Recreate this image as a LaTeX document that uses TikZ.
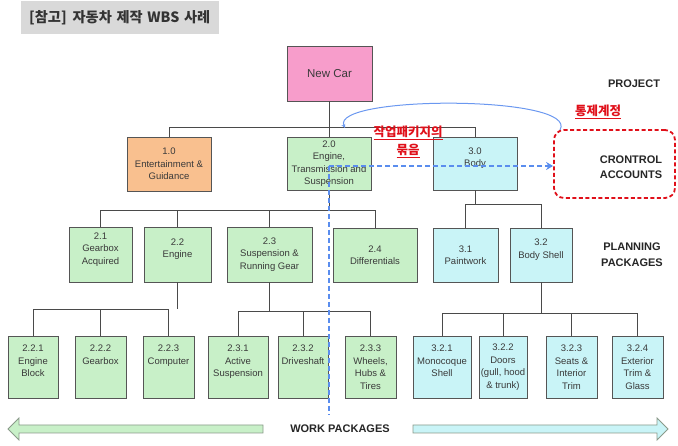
\documentclass[tikz,border=0pt]{standalone}
\usepackage{fontspec}
\setmainfont{Liberation Sans}
\newfontfamily\kr{Noto Sans CJK KR}
\usetikzlibrary{arrows.meta}
\definecolor{pinkf}{HTML}{F79DCB}
\definecolor{orangef}{HTML}{F9C08F}
\definecolor{greenf}{HTML}{C8F0C8}
\definecolor{cyanf}{HTML}{C9F4F7}
\definecolor{boxline}{HTML}{555555}
\definecolor{boxtext}{HTML}{3A3A3A}
\definecolor{connc}{HTML}{4A4A4A}
\definecolor{bluec}{HTML}{5A8DEE}
\definecolor{redc}{HTML}{E0101A}
\definecolor{titlegray}{HTML}{D9D9D9}
\definecolor{arrowline}{HTML}{8A9A8A}
\begin{document}
\begin{tikzpicture}[x=1pt,y=-1pt,
  box/.style={draw=boxline, line width=0.8pt, text=boxtext, align=center, inner sep=0pt,
    font=\fontsize{9.5}{12.5}\selectfont},
  sz/.style 2 args={minimum width=#1pt, minimum height=#2pt},
  conn/.style={draw=connc, line width=0.9pt},
  lblb/.style={font=\fontsize{11}{15.5}\selectfont\bfseries, text=black!85, align=center, inner sep=0pt},
  redt/.style={font=\kr\bfseries\fontsize{12.5}{18}\selectfont, text=redc, align=center, inner sep=0pt},
  bdash/.style={draw=bluec, line width=1.5pt, dash pattern=on 5pt off 3pt},
  bcurve/.style={draw=bluec!90, line width=1pt}]
\useasboundingbox (0,0) rectangle (678,446);

% title
\node[fill=titlegray, anchor=north west, minimum width=198pt, minimum height=33pt,
      text width=182pt, inner xsep=8pt, inner ysep=0pt, align=left, text=black!80,
      font=\kr\bfseries\fontsize{14.2}{16}\selectfont] (title) at (21,1) {[참고]\hspace{6pt}자동차 제작 WBS 사례};

% level 0
\node[box, sz={85}{55}, fill=pinkf, font=\fontsize{11.5}{14}\selectfont] (root) at (329.5,73.5) {New Car};

% level 1
\node[box, sz={84}{54}, fill=orangef] (n1) at (169,164) {1.0\\Entertainment \&\\Guidance};
\node[box, sz={84}{53}, fill=greenf] (n2) at (329,163.5) {2.0\\Engine,\\Transmission and\\Suspension};
\node[box, sz={84}{53}, fill=cyanf] (n3) at (475,163.5) {3.0\\Body\\~};

% level 2
\node[box, sz={63}{55}, fill=greenf] (n21) at (100.5,254.5) {2.1\\Gearbox\\Acquired\\~};
\node[box, sz={67}{55}, fill=greenf] (n22) at (177.5,254.5) {2.2\\Engine\\~};
\node[box, sz={85}{55}, fill=greenf] (n23) at (269.5,254.5) {2.3\\Suspension \&\\Running Gear};
\node[box, sz={84}{54}, fill=greenf] (n24) at (375,255) {2.4\\Differentials};
\node[box, sz={65}{54}, fill=cyanf] (n31) at (465.5,255) {3.1\\Paintwork};
\node[box, sz={62}{54}, fill=cyanf] (n32) at (541,255) {3.2\\Body Shell\\~};

% level 3
\node[box, sz={50}{62}, fill=greenf] (n221) at (33,367) {2.2.1\\Engine\\Block\\~};
\node[box, sz={51}{62}, fill=greenf] (n222) at (100.5,367) {2.2.2\\Gearbox\\~\\~};
\node[box, sz={51}{62}, fill=greenf] (n223) at (168.5,367) {2.2.3\\Computer\\~\\~};
\node[box, sz={60}{62}, fill=greenf] (n231) at (238,367) {2.3.1\\Active\\Suspension\\~};
\node[box, sz={50}{62}, fill=greenf] (n232) at (303,367) {2.3.2\\Driveshaft\\~\\~};
\node[box, sz={51}{62}, fill=greenf] (n233) at (370.5,367) {2.3.3\\Wheels,\\Hubs \&\\Tires};
\node[box, sz={58}{62}, fill=cyanf] (n321) at (442,367) {3.2.1\\Monocoque\\Shell\\~};
\node[box, sz={48}{62}, fill=cyanf] (n322) at (503,367) {3.2.2\\Doors\\(gull, hood\\\& trunk)};
\node[box, sz={51}{62}, fill=cyanf] (n323) at (571.5,367) {3.2.3\\Seats \&\\Interior\\Trim};
\node[box, sz={51}{62}, fill=cyanf] (n324) at (637.5,367) {3.2.4\\Exterior\\Trim \&\\Glass};

% bus coordinates
\coordinate (b0) at (0,127);
\coordinate (b2) at (0,210);
\coordinate (b3) at (0,204);
\coordinate (b22) at (0,309);
\coordinate (b23) at (0,311);
\coordinate (b32) at (0,313);

% connectors
\draw[conn] (root.south) -- (root.south |- b0);
\draw[conn] (n1.north) -- (n1.north |- b0) -- (n3.north |- b0) -- (n3.north);
\draw[conn] (n2.north) -- (n2.north |- b0);

\draw[conn] (n2.south) -- (n2.south |- b2);
\draw[conn] (n21.north) -- (n21.north |- b2) -- (n24.north |- b2) -- (n24.north);
\draw[conn] (n22.north) -- (n22.north |- b2);
\draw[conn] (n23.north) -- (n23.north |- b2);

\draw[conn] (n3.south) -- (n3.south |- b3);
\draw[conn] (n31.north) -- (n31.north |- b3) -- (n32.north |- b3) -- (n32.north);

\draw[conn] (n22.south) -- (n22.south |- b22);
\draw[conn] (n221.north) -- (n221.north |- b22) -- (n223.north |- b22) -- (n223.north);
\draw[conn] (n222.north) -- (n222.north |- b22);

\draw[conn] (n23.south) -- (n23.south |- b23);
\draw[conn] (n231.north) -- (n231.north |- b23) -- (n233.north |- b23) -- (n233.north);
\draw[conn] (n232.north) -- (n232.north |- b23);

\draw[conn] (n32.south) -- (n32.south |- b32);
\draw[conn] (n321.north) -- (n321.north |- b32) -- (n324.north |- b32) -- (n324.north);
\draw[conn] (n322.north) -- (n322.north |- b32);
\draw[conn] (n323.north) -- (n323.north |- b32);

% right-hand labels
\node[lblb] (proj) at (634,84) {PROJECT};
\node[draw=redc, line width=1.8pt, dash pattern=on 4pt off 2.5pt, rounded corners=10pt,
      minimum width=121pt, minimum height=68pt] (cab) at (614.5,164) {};
\node[lblb] (catext) at (631,167) {CRONTROL\\ACCOUNTS};
\node[lblb] (plan) at (632,254.5) {PLANNING\\PACKAGES};
\node[lblb] (wp) at (340,429) {WORK PACKAGES};

% red annotations
\node[redt] (tj) at (598,112) {\underline{통제계정}};
\node[redt] (wpk) at (408,142) {\underline{작업패키지의}\\\underline{묶음}};

% blue annotations
\coordinate (bc) at (329,166);
\coordinate (bend) at (329,415);
\coordinate (cstart) at (345,128);
\coordinate (cend) at (560,130);
\draw[bdash] (bc) -- (bend);
\draw[bdash, -{Stealth[length=7pt,width=8pt]}] (bc) -- (cab.west |- bc);
\draw[bcurve, {Stealth[length=4pt,width=4pt]}-] (cstart) .. controls (330,95) and (580,95) .. (cend);

% bottom arrows
\draw[fill=greenf, draw=arrowline, line width=0.8pt]
  (8,429) -- (19,418) -- (19,425) -- (263,425) -- (263,433) -- (19,433) -- (19,440) -- cycle;
\draw[fill=cyanf, draw=arrowline, line width=0.8pt]
  (668,429) -- (657,418) -- (657,425) -- (413,425) -- (413,433) -- (657,433) -- (657,440) -- cycle;
\end{tikzpicture}
\end{document}
